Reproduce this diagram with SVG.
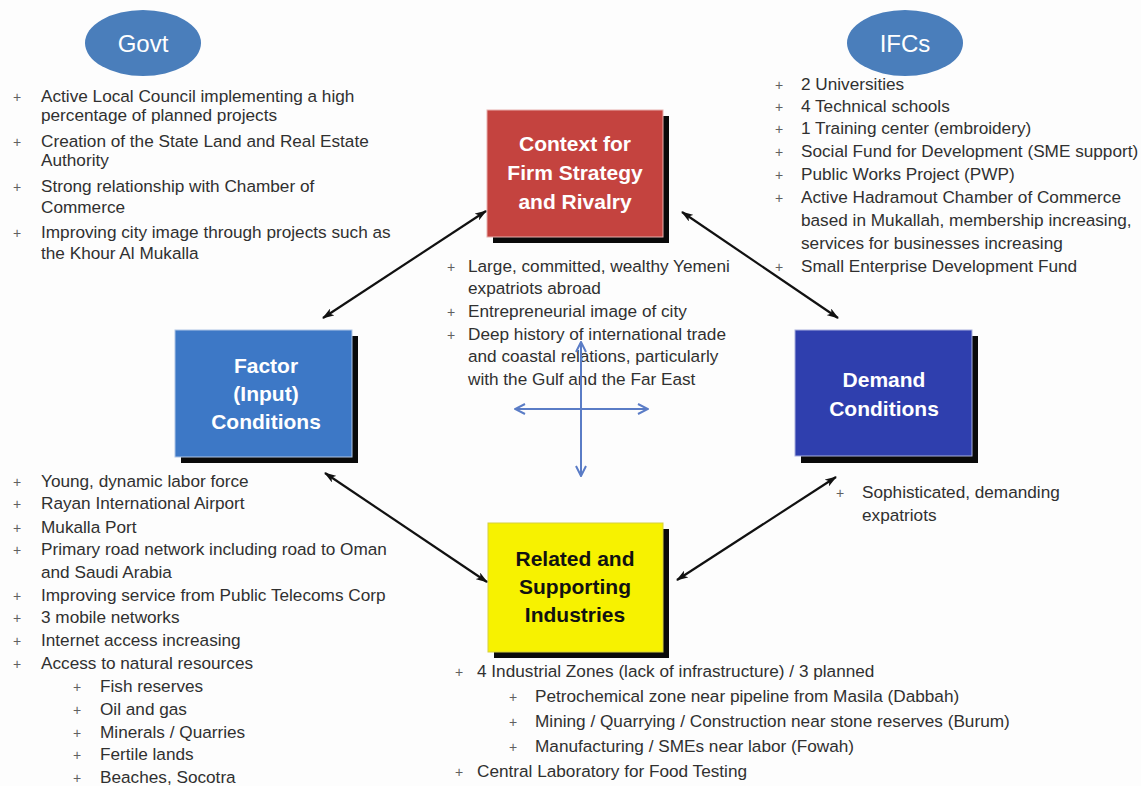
<svg xmlns="http://www.w3.org/2000/svg" width="1141" height="786" viewBox="0 0 1141 786">
<style>
.t{font-family:"Liberation Sans",Arial,sans-serif;font-size:17.2px;fill:#303030}
.b{font-family:"Liberation Sans",Arial,sans-serif;font-size:14px;fill:#606060}
.bx{font-family:"Liberation Sans",Arial,sans-serif;font-size:21px;font-weight:bold;text-anchor:middle}
.el{font-family:"Liberation Sans",Arial,sans-serif;font-size:24px;fill:#fff;text-anchor:middle}
.con{stroke:#111;stroke-width:2.2;fill:none;marker-start:url(#ah);marker-end:url(#ah)}
.cross{stroke:#5a7cc6;stroke-width:2;fill:none}
</style>
<defs>
<marker id="ah" viewBox="0 0 12 8" refX="11" refY="4" markerWidth="12" markerHeight="8" markerUnits="userSpaceOnUse" orient="auto-start-reverse">
<path d="M0,0 L12,4 L0,8 L3,4 Z" fill="#111"/>
</marker>
<marker id="bh" viewBox="0 0 12 12" refX="11" refY="6" markerWidth="12" markerHeight="12" markerUnits="userSpaceOnUse" orient="auto-start-reverse">
<path d="M1,1 L11,6 L1,11" fill="none" stroke="#5a7cc6" stroke-width="2"/>
</marker>
</defs>
<rect width="1141" height="786" fill="#fdfdfd"/>

<g id="govt">
<ellipse cx="143" cy="43" rx="58" ry="33" fill="#4a7ebb"/>
<text class="el" x="143" y="52">Govt</text>
</g>
<g id="govt-list">
<text class="b" x="13" y="102">+</text><text class="t" x="41" y="102">Active Local Council implementing  a high</text>
<text class="t" x="41" y="121">percentage of planned projects</text>
<text class="b" x="13" y="147">+</text><text class="t" x="41" y="147">Creation of the State Land and Real Estate</text>
<text class="t" x="41" y="166">Authority</text>
<text class="b" x="13" y="192">+</text><text class="t" x="41" y="192">Strong relationship with Chamber of</text>
<text class="t" x="41" y="213">Commerce</text>
<text class="b" x="13" y="238">+</text><text class="t" x="41" y="238">Improving city image through projects such as</text>
<text class="t" x="41" y="259">the Khour Al Mukalla</text>
</g>

<g id="ifcs">
<ellipse cx="905" cy="43" rx="58" ry="33" fill="#4a7ebb"/>
<text class="el" x="905" y="52">IFCs</text>
</g>
<g id="ifcs-list">
<text class="b" x="775" y="90">+</text><text class="t" x="801" y="90">2 Universities</text>
<text class="b" x="775" y="112">+</text><text class="t" x="801" y="112">4 Technical schools</text>
<text class="b" x="775" y="134">+</text><text class="t" x="801" y="134">1 Training center (embroidery)</text>
<text class="b" x="775" y="157">+</text><text class="t" x="801" y="157">Social Fund for Development (SME support)</text>
<text class="b" x="775" y="180">+</text><text class="t" x="801" y="180">Public Works Project (PWP)</text>
<text class="b" x="775" y="203">+</text><text class="t" x="801" y="203">Active Hadramout Chamber of Commerce</text>
<text class="t" x="801" y="226">based in Mukallah, membership increasing,</text>
<text class="t" x="801" y="249">services for businesses increasing</text>
<text class="b" x="775" y="272">+</text><text class="t" x="801" y="272">Small Enterprise Development Fund</text>
</g>

<g id="context">
<rect x="493" y="116" width="176" height="127" fill="#0a0a0a"/>
<rect x="487" y="110" width="176" height="127" fill="#c4433f" stroke="#e8b0ae" stroke-width="1"/>
<text class="bx" x="575" y="151" fill="#fff">Context for</text>
<text class="bx" x="575" y="180" fill="#fff">Firm Strategy</text>
<text class="bx" x="575" y="209" fill="#fff">and Rivalry</text>
</g>
<g id="context-list">
<text class="b" x="447" y="272">+</text><text class="t" x="468" y="272">Large, committed, wealthy Yemeni</text>
<text class="t" x="468" y="294">expatriots abroad</text>
<text class="b" x="447" y="317">+</text><text class="t" x="468" y="317">Entrepreneurial image of city</text>
<text class="b" x="447" y="340">+</text><text class="t" x="468" y="340">Deep history of international trade</text>
<text class="t" x="468" y="362">and coastal relations, particularly</text>
<text class="t" x="468" y="385">with the Gulf and  the Far East</text>
</g>

<g id="factor">
<rect x="181" y="336" width="177" height="127" fill="#0a0a0a"/>
<rect x="175" y="330" width="177" height="127" fill="#3d78c6" stroke="#b0c6e6" stroke-width="1"/>
<text class="bx" x="266" y="373" fill="#fff">Factor</text>
<text class="bx" x="266" y="401" fill="#fff">(Input)</text>
<text class="bx" x="266" y="429" fill="#fff">Conditions</text>
</g>
<g id="factor-list">
<text class="b" x="13" y="487">+</text><text class="t" x="41" y="487">Young, dynamic labor force</text>
<text class="b" x="13" y="509">+</text><text class="t" x="41" y="509">Rayan International Airport</text>
<text class="b" x="13" y="533">+</text><text class="t" x="41" y="533">Mukalla Port</text>
<text class="b" x="13" y="555">+</text><text class="t" x="41" y="555">Primary road network including road to Oman</text>
<text class="t" x="41" y="578">and Saudi Arabia</text>
<text class="b" x="13" y="601">+</text><text class="t" x="41" y="601">Improving service from Public Telecoms Corp</text>
<text class="b" x="13" y="623">+</text><text class="t" x="41" y="623">3 mobile networks</text>
<text class="b" x="13" y="646">+</text><text class="t" x="41" y="646">Internet access increasing</text>
<text class="b" x="13" y="669">+</text><text class="t" x="41" y="669">Access to natural resources</text>
<text class="b" x="73" y="692">+</text><text class="t" x="100" y="692">Fish reserves</text>
<text class="b" x="73" y="715">+</text><text class="t" x="100" y="715">Oil and gas</text>
<text class="b" x="73" y="738">+</text><text class="t" x="100" y="738">Minerals / Quarries</text>
<text class="b" x="73" y="760">+</text><text class="t" x="100" y="760">Fertile lands</text>
<text class="b" x="73" y="783">+</text><text class="t" x="100" y="783">Beaches, Socotra</text>
</g>

<g id="demand">
<rect x="801" y="336" width="177" height="127" fill="#0a0a0a"/>
<rect x="795" y="330" width="177" height="126" fill="#2f3fae" stroke="#a9b0de" stroke-width="1"/>
<text class="bx" x="884" y="387" fill="#fff">Demand</text>
<text class="bx" x="884" y="416" fill="#fff">Conditions</text>
</g>
<g id="demand-list">
<text class="b" x="836" y="498">+</text><text class="t" x="862" y="498">Sophisticated, demanding</text>
<text class="t" x="862" y="521">expatriots</text>
</g>

<g id="related">
<rect x="494" y="529" width="175" height="129" fill="#0a0a0a"/>
<rect x="488" y="523" width="175" height="129" fill="#f7f200" stroke="#d6cf40" stroke-width="1"/>
<text class="bx" x="575" y="566" fill="#111">Related and</text>
<text class="bx" x="575" y="594" fill="#111">Supporting</text>
<text class="bx" x="575" y="622" fill="#111">Industries</text>
</g>
<g id="related-list">
<text class="b" x="455" y="677">+</text><text class="t" x="477" y="677">4 Industrial Zones (lack of infrastructure) / 3 planned</text>
<text class="b" x="509" y="702">+</text><text class="t" x="535" y="702">Petrochemical zone near pipeline from Masila (Dabbah)</text>
<text class="b" x="509" y="727">+</text><text class="t" x="535" y="727">Mining / Quarrying / Construction near stone reserves (Burum)</text>
<text class="b" x="509" y="752">+</text><text class="t" x="535" y="752">Manufacturing / SMEs near labor (Fowah)</text>
<text class="b" x="455" y="777">+</text><text class="t" x="477" y="777">Central Laboratory for Food Testing</text>
</g>

<g id="connectors">
<line class="con" x1="486" y1="211" x2="323" y2="318"/>
<line class="con" x1="682" y1="212" x2="838" y2="318"/>
<line class="con" x1="325" y1="473" x2="487" y2="582"/>
<line class="con" x1="677" y1="580" x2="836" y2="477"/>
<line class="cross" x1="581" y1="342" x2="581" y2="476" marker-start="url(#bh)" marker-end="url(#bh)"/>
<line class="cross" x1="515" y1="409" x2="648" y2="409" marker-start="url(#bh)" marker-end="url(#bh)"/>
</g>
</svg>
